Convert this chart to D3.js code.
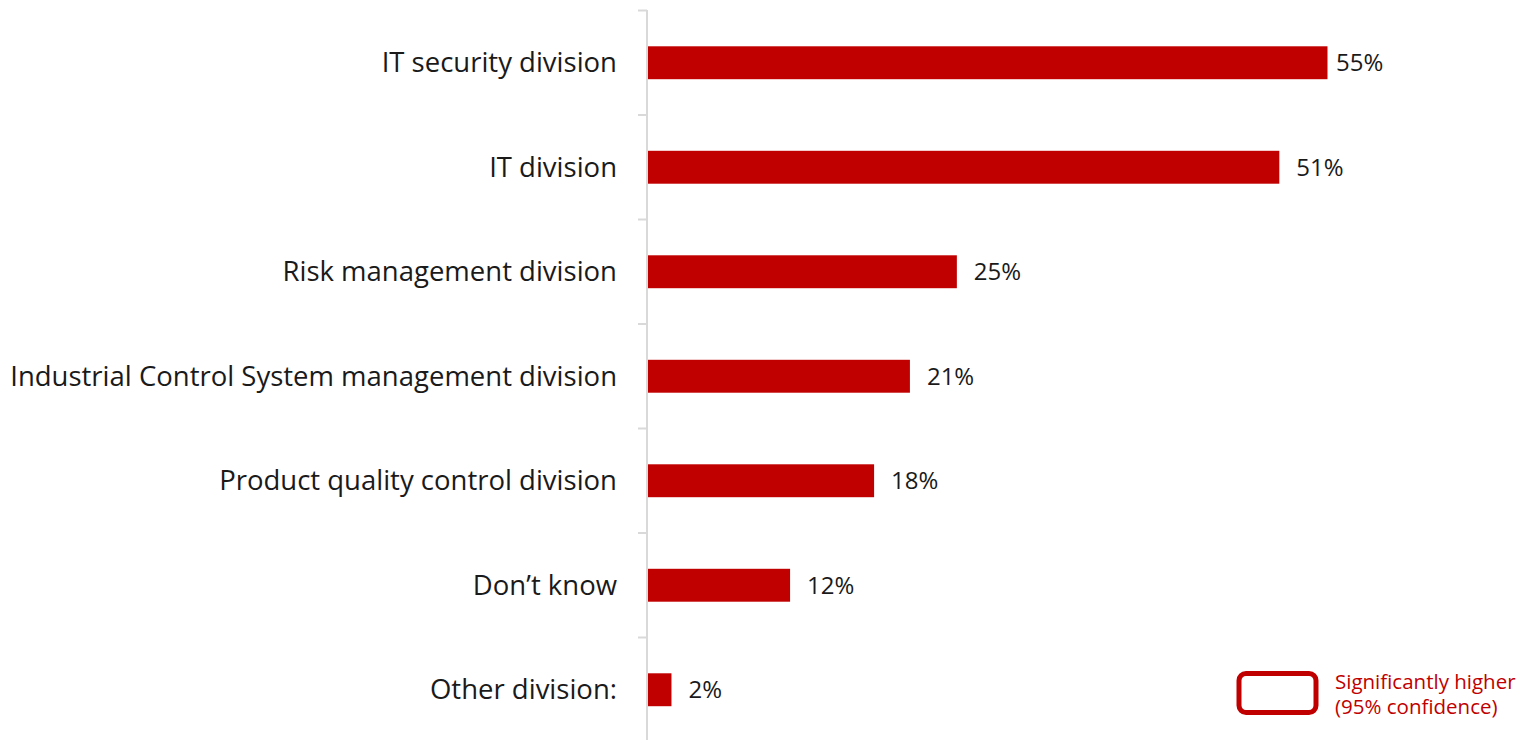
<!DOCTYPE html>
<html>
<head>
<meta charset="utf-8">
<script src="https://cdn.jsdelivr.net/npm/d3@7"></script>
<style>
  body { margin: 0; background: #fff; }
  svg { display: block; font-family: "Open Sans", sans-serif; }
</style>
</head>
<body>
<svg id="chart"></svg>
<script>
// data
const categories = [
  "IT security division",
  "IT division",
  "Risk management division",
  "Industrial Control System management division",
  "Product quality control division",
  "Don\u2019t know",
  "Other division:"
];
const values = [55, 51.1, 25, 21.2, 18.3, 11.5, 1.9];
const legendLines = ["Significantly higher", "(95% confidence)"];

const W = 1535, H = 740;
const red = "#c00000";

const svg = d3.select("#chart")
  .attr("width", W)
  .attr("height", H);

// scales
const x = d3.scaleLinear()
  .domain([0, 55])
  .range([648, 1327.5]);

const y = d3.scaleBand()
  .domain(categories)
  .range([10.5, 742])
  .padding(0);

const barH = y.bandwidth() * 0.315;

// axis on the left with outward ticks at band edges
const axisG = svg.append("g").attr("transform", "translate(647,0)");
axisG.append("line")
  .attr("x1", 0).attr("x2", 0)
  .attr("y1", 10).attr("y2", H)
  .attr("stroke", "#d9d9d9").attr("stroke-width", 2);
const edges = categories.map(c => y(c)).concat([y.range()[1]]);
axisG.selectAll("line.tick")
  .data(edges)
  .join("line")
  .attr("class", "tick")
  .attr("x1", -9).attr("x2", 0)
  .attr("y1", d => d).attr("y2", d => d)
  .attr("stroke", "#d9d9d9").attr("stroke-width", 2);

// bars
svg.selectAll("rect.bar")
  .data(values)
  .join("rect")
  .attr("class", "bar")
  .attr("x", x(0))
  .attr("y", (d, i) => y(categories[i]) + (y.bandwidth() - barH) / 2)
  .attr("width", d => x(d) - x(0))
  .attr("height", barH)
  .attr("fill", red);

// category labels
svg.selectAll("text.cat")
  .data(categories)
  .join("text")
  .attr("class", "cat")
  .attr("x", 617)
  .attr("y", d => y(d) + y.bandwidth() / 2)
  .attr("dy", "0.35em")
  .attr("text-anchor", "end")
  .attr("fill", "#1a1a1a")
  .style("font-size", "27.5px")
  .text(d => d);

// value labels
svg.selectAll("text.val")
  .data(values)
  .join("text")
  .attr("class", "val")
  .attr("x", d => Math.min(x(d) + 17, 1336))
  .attr("y", (d, i) => y(categories[i]) + y.bandwidth() / 2)
  .attr("dy", "0.35em")
  .attr("fill", "#1a1a1a")
  .style("font-size", "24px")
  .text(d => Math.round(d) + "%");

// legend
const lg = svg.append("g");
lg.append("rect")
  .attr("x", 1239).attr("y", 673.5)
  .attr("width", 77).attr("height", 39)
  .attr("rx", 7)
  .attr("fill", "none")
  .attr("stroke", red)
  .attr("stroke-width", 5);
lg.selectAll("text")
  .data(legendLines)
  .join("text")
  .attr("x", 1335)
  .attr("y", (d, i) => 689 + i * 25)
  .attr("fill", red)
  .style("font-size", "20.5px")
  .text(d => d);
</script>
</body>
</html>
